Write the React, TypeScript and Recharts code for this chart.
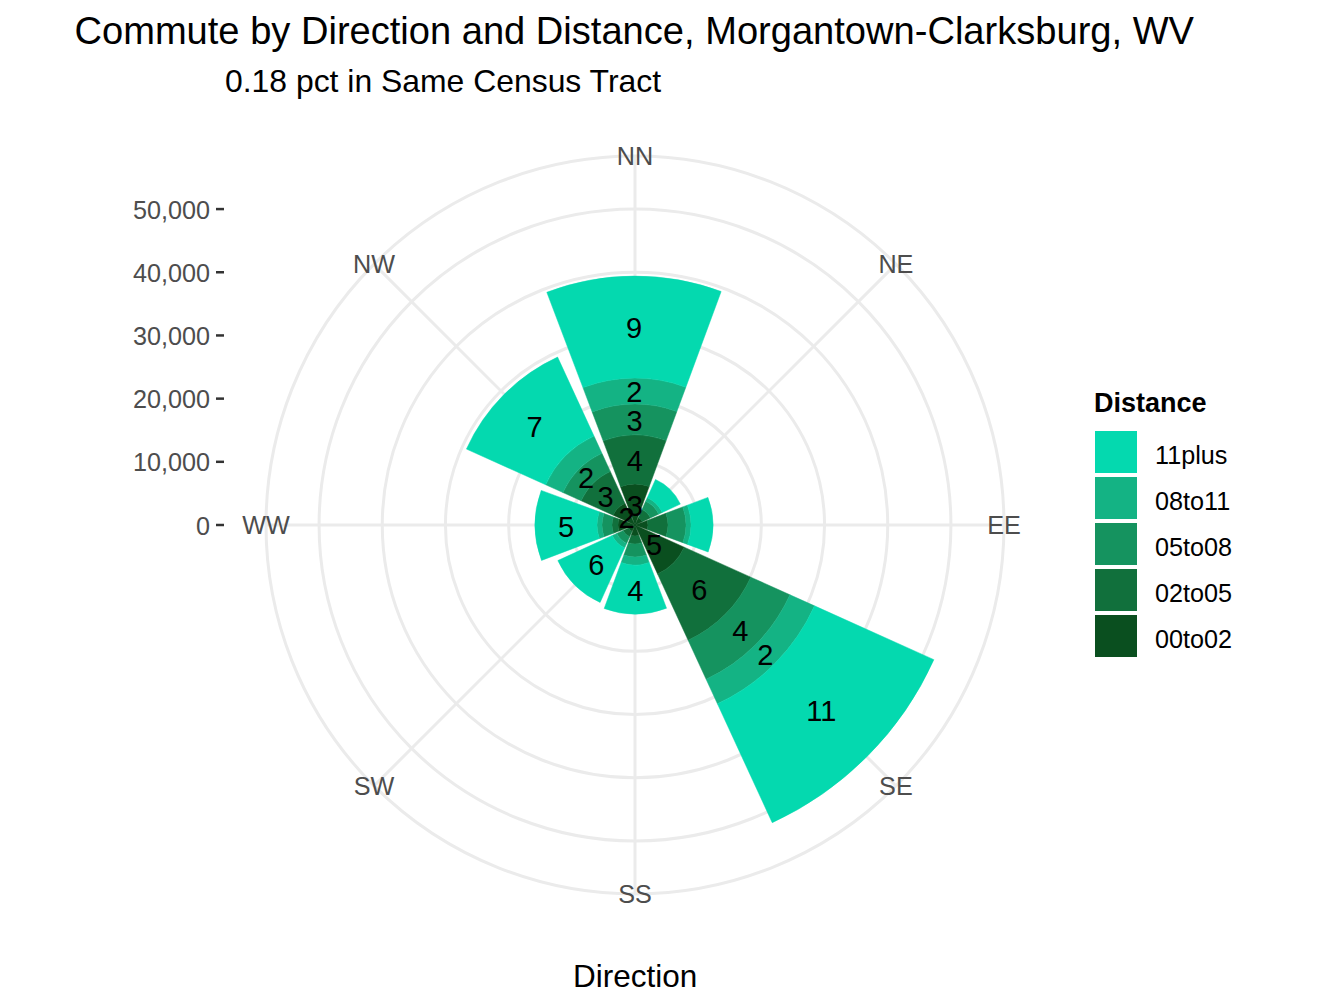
import { RadialBarChart, RadialBar, PolarAngleAxis, PolarRadiusAxis, PolarGrid, LabelList } from 'recharts'

const directions = ['NN', 'NE', 'EE', 'SE', 'SS', 'SW', 'WW', 'NW']
const distances = ['00to02', '02to05', '05to08', '08to11', '11plus']
const colors = ['#0A4F1F', '#11703C', '#15935F', '#14B384', '#04D9AF']

const commute00to02 = [6490, 1270, 2060, 8540, 1740, 1110, 2690, 3800]
const commute02to05 = [7750, 1420, 3160, 11550, 1270, 950, 950, 5540]
const commute05to08 = [4900, 1420, 2850, 6800, 2060, 1110, 1580, 3160]
const commute08to11 = [4110, 630, 790, 4270, 1270, 790, 790, 3000]
const commute11plus = [16140, 3160, 3480, 20720, 7750, 9490, 9810, 13760]
const commutes = [commute00to02, commute02to05, commute05to08, commute08to11, commute11plus]

// percent labels, small groups have none
const pct00to02 = [3, null, null, 5, null, null, null, 2]
const pct02to05 = [4, null, null, 6, null, null, null, 3]
const pct05to08 = [3, null, null, 4, null, null, null, 2]
const pct08to11 = [2, null, null, 2, null, null, null, null]
const pct11plus = [9, null, null, 11, 4, 6, 5, 7]
const pcts = [pct00to02, pct02to05, pct05to08, pct08to11, pct11plus]

const radiusTicks = [0, 10000, 20000, 30000, 40000, 50000]
const radiusMax = 58400

const CX = 635
const CY = 525
const OUTER = 369
const FONT = '"Liberation Sans", Arial, sans-serif'

const data = directions.map((dir, i) => {
  const row: Record<string, string | number | null> = { dir }
  distances.forEach((d, j) => {
    row[d] = commutes[j][i]
    row[`pct${d}`] = pcts[j][i]
  })
  return row
})

// the axis puts ticks at the band edge, half a band (22.5deg) before the bar centre
function AngleTick({ payload }: any) {
  const rad = ((payload.coordinate + 22.5) * Math.PI) / 180
  return (
    <text
      x={CX + OUTER * Math.cos(rad)}
      y={CY - OUTER * Math.sin(rad)}
      textAnchor="middle"
      dominantBaseline="central"
      fontSize={25.2}
      fontFamily={FONT}
      fill="#4D4D4D"
    >
      {payload.value}
    </text>
  )
}

function RadiusTick({ y, payload }: any) {
  return (
    <g>
      <text x={210} y={y + 0.5} textAnchor="end" dominantBaseline="central" fontSize={25.2} fontFamily={FONT} fill="#4D4D4D">
        {Number(payload.value).toLocaleString('en-US')}
      </text>
      <line x1={216} x2={224} y1={y} y2={y} stroke="#333333" strokeWidth={2.5} />
    </g>
  )
}

function Text({ left, top, size, bold, children }: any) {
  return (
    <div
      style={{
        position: 'absolute',
        left,
        top,
        fontSize: size,
        fontWeight: bold ? 700 : 400,
        fontFamily: FONT,
        lineHeight: 1,
        whiteSpace: 'nowrap',
        color: '#000',
      }}
    >
      {children}
    </div>
  )
}

export default function App() {
  return (
    <div style={{ position: 'absolute', left: 0, top: 0, width: 1344, height: 1008, background: '#fff' }}>
      <RadialBarChart
        width={1344}
        height={1008}
        data={data}
        layout="centric"
        cx={CX}
        cy={CY}
        innerRadius={0}
        outerRadius={OUTER}
        startAngle={67.5}
        endAngle={-292.5}
        barCategoryGap="5%"
        barGap={0}
        margin={{ top: 0, right: 0, bottom: 0, left: 0 }}
      >
        <PolarGrid
          gridType="circle"
          stroke="#EBEBEB"
          strokeWidth={3}
          polarAngles={directions.map((_, i) => 90 - i * 45)}
          polarRadius={[...radiusTicks.slice(1).map(t => (t / radiusMax) * OUTER), OUTER]}
        />
        <PolarAngleAxis
          dataKey="dir"
          type="category"
          tick={AngleTick}
          tickLine={false}
          axisLine={false}
          tickSize={0}
        />
        <PolarRadiusAxis
          type="number"
          angle={90}
          domain={[0, radiusMax]}
          ticks={radiusTicks as any}
          tick={RadiusTick}
          tickLine={false}
          axisLine={false}
        />
        {distances.map((d, j) => (
          <RadialBar
            key={d}
            dataKey={d}
            stackId="a"
            fill={colors[j]}
            stroke={colors[j]}
            strokeWidth={0.5}
            isAnimationActive={false}
          >
            <LabelList
              dataKey={`pct${d}`}
              position="middle"
              fontSize={29}
              fontFamily={FONT}
              fill="#000"
              stroke="none"
              dy={1}
            />
          </RadialBar>
        ))}
      </RadialBarChart>

      <Text left={74.5} top={12} size={38.1}>Commute by Direction and Distance, Morgantown-Clarksburg, WV</Text>
      <Text left={225} top={66} size={31.9}>0.18 pct in Same Census Tract</Text>
      <Text left={573} top={961} size={31.5}>Direction</Text>

      <Text left={1094} top={390} size={27} bold>Distance</Text>
      {[...distances].reverse().map((d, i) => (
        <div key={d}>
          <div
            style={{
              position: 'absolute',
              left: 1095,
              top: 431 + i * 46,
              width: 42,
              height: 42,
              background: colors[colors.length - 1 - i],
            }}
          />
          <Text left={1155} top={443 + i * 46} size={25.2}>{d}</Text>
        </div>
      ))}
    </div>
  )
}
